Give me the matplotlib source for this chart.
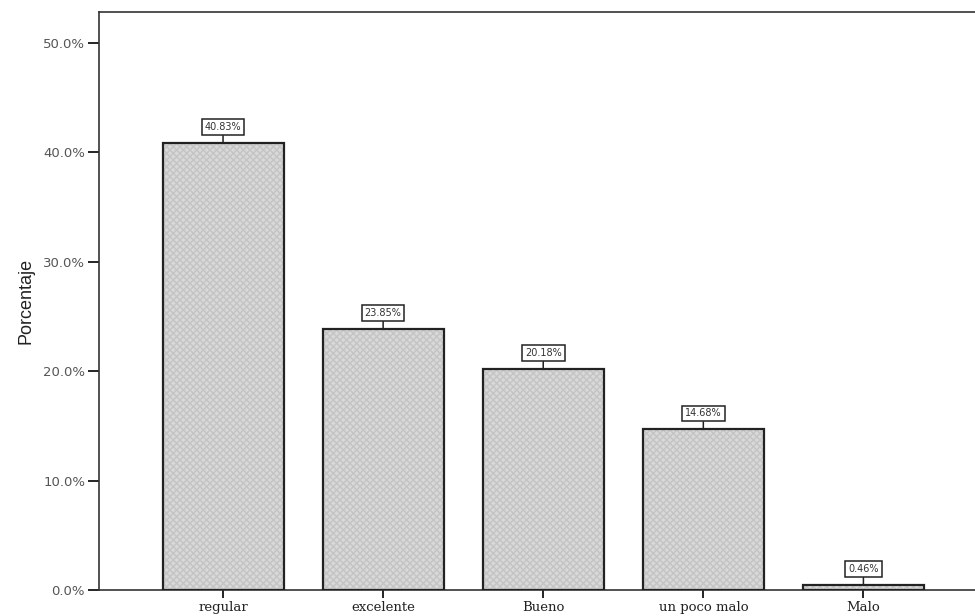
import numpy as np
import matplotlib.pyplot as plt
from matplotlib.ticker import FuncFormatter

categorias = ['regular', 'excelente', 'Bueno', 'un poco malo', 'Malo']
porcentajes = [40.83, 23.85, 20.18, 14.68, 0.46]
etiquetas = ['40.83%', '23.85%', '20.18%', '14.68%', '0.46%']

fig = plt.figure(figsize=(9.75, 6.16), dpi=100)
ax = fig.add_axes([0.1015, 0.042, 0.899, 0.9385])

x = np.arange(len(categorias))
ancho = 0.756

# relleno gris con trama fina, luego el borde negro encima
ax.bar(x, porcentajes, width=ancho, color='#d9d9d9', edgecolor='#c4c4c4',
       hatch='xxxxx', linewidth=0, zorder=2)
ax.bar(x, porcentajes, width=ancho, facecolor='none', edgecolor='#222222',
       linewidth=1.6, zorder=3)

for i in range(len(categorias)):
    ax.annotate(etiquetas[i], xy=(x[i], porcentajes[i]),
                xytext=(0, 11.5), textcoords='offset points',
                ha='center', va='center', fontsize=7, color='#333333',
                bbox=dict(boxstyle='square,pad=0.3', fc='white', ec='#222222', lw=1.1),
                arrowprops=dict(arrowstyle='-', color='#222222', lw=1.1,
                                shrinkA=0, shrinkB=0),
                zorder=4)

ax.set_xlim(-0.775, 4.7)
ax.set_ylim(0, 52.8)
ax.set_xticks(x)
ax.set_xticklabels(categorias, family='DejaVu Serif', fontsize=9.5, color='#222222')
ax.set_yticks([0, 10, 20, 30, 40, 50])
ax.yaxis.set_major_formatter(FuncFormatter(lambda v, p: '%.1f%%' % v))
ax.tick_params(axis='y', labelsize=9.5, labelcolor='#555555', length=8, width=1.2, pad=2)
ax.tick_params(axis='x', length=6, width=1.2, pad=2)
ax.set_ylabel('Porcentaje', family='Liberation Sans', fontsize=13, color='#222222', labelpad=6)

for lado in ['left', 'bottom', 'top']:
    ax.spines[lado].set_linewidth(1.2)
    ax.spines[lado].set_color('#333333')
ax.spines['right'].set_visible(False)

plt.savefig('out.png', dpi=100)
